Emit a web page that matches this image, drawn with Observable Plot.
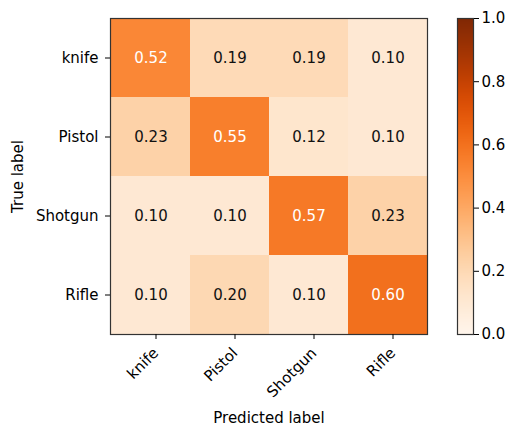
<!DOCTYPE html>
<html>
<head>
<meta charset="utf-8">
<script src="https://cdn.jsdelivr.net/npm/d3@7"></script>
<script src="https://cdn.jsdelivr.net/npm/@observablehq/plot@0.6"></script>
<style>
  html, body { margin: 0; padding: 0; background: #fff; overflow: hidden; }
  #wrap { position: relative; width: 505px; height: 426px; }
  #wrap svg { position: absolute; left: 0; top: 0; }
</style>
</head>
<body>
<div id="wrap"></div>
<script>
const labels = ["knife", "Pistol", "Shotgun", "Rifle"];
const rowKnife   = [0.52, 0.19, 0.19, 0.10];
const rowPistol  = [0.23, 0.55, 0.12, 0.10];
const rowShotgun = [0.10, 0.10, 0.57, 0.23];
const rowRifle   = [0.10, 0.20, 0.10, 0.60];
const colorTicks = [0, 0.2, 0.4, 0.6, 0.8, 1.0];

const rows = [rowKnife, rowPistol, rowShotgun, rowRifle];
const cells = [];
rows.forEach((r, i) => r.forEach((v, j) => cells.push({truth: labels[i], pred: labels[j], v})));

const font = "DejaVu Sans, sans-serif";
const W = 505, H = 426;
const mT = 18, mB = 92;
const color = {type: "linear", domain: [0, 1], scheme: "oranges"};

const main = Plot.plot({
  width: W, height: H,
  marginLeft: 110, marginRight: 78, marginTop: mT, marginBottom: mB,
  style: {fontFamily: font, fontSize: "15px", color: "#000", background: "transparent"},
  x: {domain: labels, padding: 0},
  y: {domain: labels, padding: 0},
  color,
  marks: [
    Plot.cell(cells, {x: "pred", y: "truth", fill: "v"}),
    Plot.text(cells, {x: "pred", y: "truth", text: d => d.v.toFixed(2),
      fill: d => d.v > 0.3 ? "white" : "#111", fontSize: 15}),
    Plot.frame({stroke: "#333", strokeWidth: 1.2}),
    Plot.axisX({label: "Predicted label", labelAnchor: "center", labelOffset: 88,
      tickRotate: -45, tickSize: 5, tickPadding: 11, dx: 5, fontSize: 15}),
    Plot.axisY({label: "True label", labelAnchor: "center", labelOffset: 98,
      tickSize: 5, tickPadding: 7, fontSize: 15})
  ]
});

const steps = d3.range(0, 1, 0.002);
const bar = Plot.plot({
  width: W, height: H,
  marginLeft: 457, marginRight: 32, marginTop: mT, marginBottom: mB,
  style: {fontFamily: font, fontSize: "15px", color: "#000", background: "transparent", overflow: "visible"},
  x: {domain: [0, 1], axis: null},
  y: {domain: [0, 1]},
  color,
  marks: [
    Plot.rect(steps, {x1: 0, x2: 1, y1: d => d, y2: d => Math.min(1, d + 0.003), fill: d => d, shapeRendering: "crispEdges"}),
    Plot.frame({stroke: "#333", strokeWidth: 1.2}),
    Plot.axisY({anchor: "right", ticks: colorTicks, tickFormat: d3.format(".1f"),
      tickSize: 5, tickPadding: 3, label: null, fontSize: 15})
  ]
});

const wrap = document.getElementById("wrap");
wrap.append(main, bar);
</script>
</body>
</html>
